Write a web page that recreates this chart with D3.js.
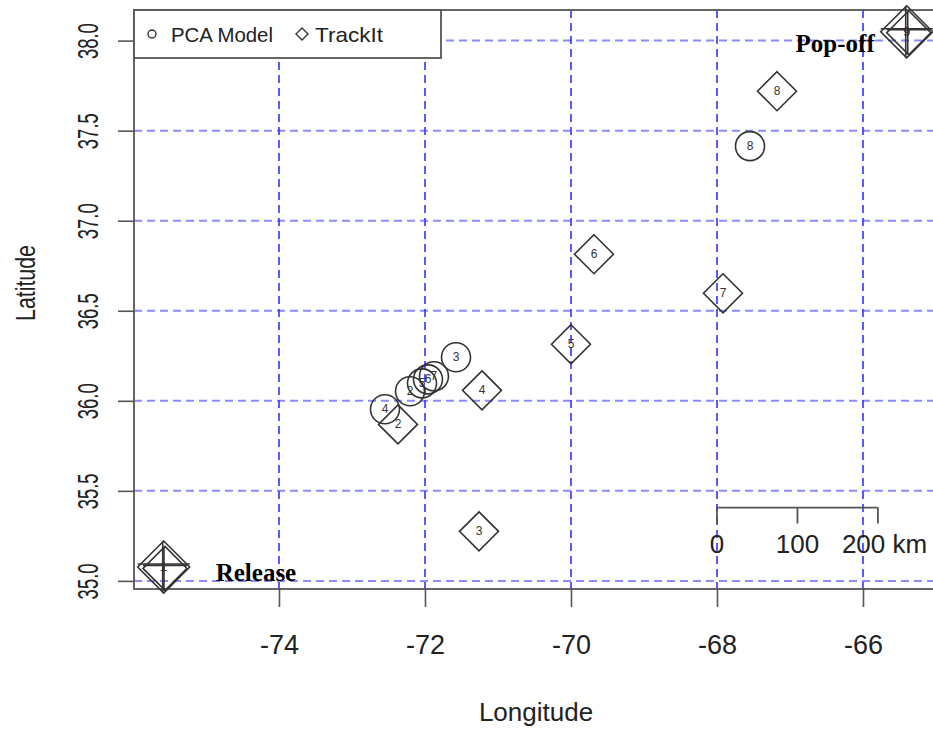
<!DOCTYPE html>
<html>
<head>
	<meta charset="utf-8">
	<title>PCA Model vs TrackIt</title>
	<script src="https://cdn.jsdelivr.net/npm/d3@7"></script>
	<style>
		body { margin: 0; background: #fff; }
		svg { display: block; font-family: "Liberation Sans", Arial, sans-serif; }
	</style>
</head>
<body>
	<div id="chart"></div>
	<script>
		// positions (lon, lat) per day
		var pcaLon = [-75.579, -72.205, -71.575, -72.548, -72.041, -71.959, -71.877, -67.548, -65.401];
		var pcaLat = [35.077, 36.053, 36.242, 35.953, 36.097, 36.119, 36.136, 37.414, 38.049];
		var pcaLabel = ["1", "2", "3", "4", "5", "6", "7", "8", "9"];

		var trackLon = [-75.589, -72.370, -71.260, -71.219, -70.000, -69.685, -67.918, -67.178, -65.401];
		var trackLat = [35.075, 35.869, 35.275, 36.058, 36.314, 36.814, 36.597, 37.719, 38.049];
		var trackLabel = ["1", "2", "3", "4", "5", "6", "7", "8", "9"];

		var xTicks = [-74, -72, -70, -68, -66];
		var yTicks = [35.0, 35.5, 36.0, 36.5, 37.0, 37.5, 38.0];
		var scaleKm = [0, 100, 200];

		var width = 933, height = 732;
		// note: "top" is taken by window.top, so prefix these
		var plotLeft = 134, plotTop = 10, plotBottom = 589, plotRight = 1009;

		var x = d3.scaleLinear().domain([-75.986, -64.0]).range([plotLeft, plotRight]);
		var y = d3.scaleLinear().domain([34.955, 38.17]).range([plotBottom, plotTop]);

		var svg = d3.select("#chart").append("svg")
				.attr("width", width)
				.attr("height", height);

		// dashed grid
		var grid = svg.append("g")
				.attr("stroke", "#3d3dff")
				.attr("stroke-width", 2)
				.attr("stroke-dasharray", "8,5");

		grid.selectAll("line.v")
				.data(xTicks)
			.enter().append("line")
				.attr("class", "v")
				.attr("stroke-opacity", 0.85)
				.attr("x1", function(d) { return Math.round(x(d)); })
				.attr("x2", function(d) { return Math.round(x(d)); })
				.attr("y1", plotTop)
				.attr("y2", plotBottom);

		grid.selectAll("line.h")
				.data(yTicks)
			.enter().append("line")
				.attr("class", "h")
				.attr("stroke-opacity", 0.6)
				.attr("x1", plotLeft)
				.attr("x2", width)
				.attr("y1", function(d) { return y(d); })
				.attr("y2", function(d) { return y(d); });

		// axes
		var xAxis = d3.axisBottom(x).tickValues(xTicks).tickSize(18).tickPadding(28)
				.tickFormat(function(d) { return d; });
		var gx = svg.append("g")
				.attr("transform", "translate(0," + plotBottom + ")")
				.call(xAxis);
		gx.select(".domain").remove();
		gx.selectAll("line").attr("stroke", "#555").attr("stroke-width", 1.6);
		gx.selectAll("text")
				.attr("fill", "#222")
				.attr("font-size", 27)
				.attr("font-family", "Liberation Sans, Arial, sans-serif");

		var yAxis = d3.axisLeft(y).tickValues(yTicks).tickSize(16).tickFormat(d3.format(".1f"));
		var gy = svg.append("g")
				.attr("transform", "translate(" + plotLeft + ",0)")
				.call(yAxis);
		gy.select(".domain").remove();
		gy.selectAll("line").attr("stroke", "#555").attr("stroke-width", 1.6);
		gy.selectAll("text")
				.attr("fill", "#222")
				.attr("font-size", 29)
				.attr("font-family", "Liberation Sans, Arial, sans-serif")
				.attr("x", -36)
				.attr("dy", 0)
				.attr("text-anchor", "middle")
				.attr("transform", "rotate(-90,-36,0)")
				.attr("textLength", 36)
				.attr("lengthAdjust", "spacingAndGlyphs");

		// plot box
		svg.append("rect")
				.attr("x", plotLeft)
				.attr("y", plotTop)
				.attr("width", plotRight - plotLeft)
				.attr("height", plotBottom - plotTop)
				.attr("fill", "none")
				.attr("stroke", "#555")
				.attr("stroke-width", 1.8);

		// axis titles
		svg.append("text")
				.attr("x", 536)
				.attr("y", 721)
				.attr("text-anchor", "middle")
				.attr("font-size", 26)
				.attr("fill", "#222")
				.text("Longitude");

		svg.append("text")
				.attr("transform", "translate(35,283) rotate(-90)")
				.attr("text-anchor", "middle")
				.attr("font-size", 28)
				.attr("fill", "#222")
				.attr("textLength", 76)
				.attr("lengthAdjust", "spacingAndGlyphs")
				.text("Latitude");

		var pca = pcaLon.map(function(d, i) { return {lon: d, lat: pcaLat[i], label: pcaLabel[i]}; });
		var track = trackLon.map(function(d, i) { return {lon: d, lat: trackLat[i], label: trackLabel[i]}; });

		function diamond(r) {
			return "M0," + (-r) + "L" + r + ",0L0," + r + "L" + (-r) + ",0Z";
		}

		function isEnd(d, i, arr) { return i === 0 || i === arr.length - 1; }

		var marks = svg.append("g")
				.attr("fill", "none")
				.attr("stroke", "#333")
				.attr("stroke-width", 1.6);

		// release / pop-off markers: diamond with a cross
		var ends = [pca[0], track[0], pca[pca.length - 1], track[track.length - 1]];
		var endSize = [26, 22, 26, 22];
		var endG = marks.selectAll("g.end")
				.data(ends)
			.enter().append("g")
				.attr("class", "end")
				.attr("transform", function(d, i) {
					return "translate(" + (x(d.lon) + (i % 2) * 2) + "," + (y(d.lat) + (i % 2) * 1) + ")";
				});
		endG.append("path")
				.attr("d", function(d, i) { return diamond(endSize[i]); });
		endG.append("line")
				.attr("x1", function(d, i) { return -endSize[i]; })
				.attr("x2", function(d, i) { return endSize[i]; })
				.attr("y1", -3).attr("y2", -3);
		endG.append("line")
				.attr("y1", function(d, i) { return -endSize[i]; })
				.attr("y2", function(d, i) { return endSize[i]; })
				.attr("x1", -1).attr("x2", -1);

		marks.selectAll("circle.pca")
				.data(pca.filter(function(d, i, a) { return !isEnd(d, i, a); }))
			.enter().append("circle")
				.attr("class", "pca")
				.attr("cx", function(d) { return x(d.lon); })
				.attr("cy", function(d) { return y(d.lat); })
				.attr("r", 14.5);

		marks.selectAll("path.track")
				.data(track.filter(function(d, i, a) { return !isEnd(d, i, a); }))
			.enter().append("path")
				.attr("class", "track")
				.attr("transform", function(d) { return "translate(" + x(d.lon) + "," + y(d.lat) + ")"; })
				.attr("d", diamond(19.5));

		var labels = svg.append("g")
				.attr("font-size", 12)
				.attr("fill", "#333")
				.attr("text-anchor", "middle");

		labels.selectAll("text")
				.data(pca.concat(track))
			.enter().append("text")
				.attr("x", function(d) { return x(d.lon); })
				.attr("y", function(d) { return y(d.lat) + 4; })
				.text(function(d) { return d.label; });

		// annotations
		var serif = "Liberation Serif, Times New Roman, serif";
		svg.append("text")
				.attr("x", x(pca[0].lon) + 52)
				.attr("y", y(pca[0].lat) + 14)
				.attr("font-family", serif)
				.attr("font-weight", "bold")
				.attr("font-size", 25)
				.attr("fill", "#000")
				.text("Release");

		svg.append("text")
				.attr("x", x(pca[8].lon) - 32)
				.attr("y", y(pca[8].lat) + 20)
				.attr("text-anchor", "end")
				.attr("font-family", serif)
				.attr("font-weight", "bold")
				.attr("font-size", 25)
				.attr("fill", "#000")
				.text("Pop-off");

		// scale bar, km converted to degrees of longitude at the bar latitude
		var barLon = -68, barLat = 35.407;
		var kmPerDeg = 111.32 * Math.cos(barLat * Math.PI / 180);
		var bx = function(km) { return x(barLon + km / kmPerDeg); };
		var by = y(barLat);
		var bar = svg.append("g")
				.attr("stroke", "#555")
				.attr("stroke-width", 1.8);
		bar.append("line")
				.attr("x1", bx(scaleKm[0]))
				.attr("x2", bx(scaleKm[scaleKm.length - 1]))
				.attr("y1", by).attr("y2", by);
		bar.selectAll("line.tk")
				.data(scaleKm)
			.enter().append("line")
				.attr("class", "tk")
				.attr("x1", function(d) { return bx(d); })
				.attr("x2", function(d) { return bx(d); })
				.attr("y1", by).attr("y2", by + 16);

		svg.append("g")
				.attr("font-size", 26)
				.attr("fill", "#222")
				.selectAll("text")
				.data(scaleKm)
			.enter().append("text")
				.attr("x", function(d, i) { return i === scaleKm.length - 1 ? bx(d) - 36 : bx(d); })
				.attr("y", by + 45)
				.attr("text-anchor", function(d, i) { return i === scaleKm.length - 1 ? "start" : "middle"; })
				.text(function(d, i) { return i === scaleKm.length - 1 ? d + " km" : d; });

		// legend
		var legend = svg.append("g");
		legend.append("rect")
				.attr("x", plotLeft)
				.attr("y", plotTop)
				.attr("width", 307)
				.attr("height", 48)
				.attr("fill", "#fff")
				.attr("stroke", "#555")
				.attr("stroke-width", 1.8);
		legend.append("circle")
				.attr("cx", 152).attr("cy", 34).attr("r", 4)
				.attr("fill", "none").attr("stroke", "#333").attr("stroke-width", 1.4);
		legend.append("text")
				.attr("x", 171).attr("y", 42)
				.attr("font-size", 21).attr("fill", "#222")
				.attr("textLength", 102).attr("lengthAdjust", "spacingAndGlyphs")
				.text("PCA Model");
		legend.append("path")
				.attr("transform", "translate(302,34)")
				.attr("d", diamond(6))
				.attr("fill", "none").attr("stroke", "#333").attr("stroke-width", 1.4);
		legend.append("text")
				.attr("x", 315).attr("y", 42)
				.attr("font-size", 21).attr("fill", "#222")
				.attr("textLength", 68).attr("lengthAdjust", "spacingAndGlyphs")
				.text("TrackIt");
	</script>
</body>
</html>
